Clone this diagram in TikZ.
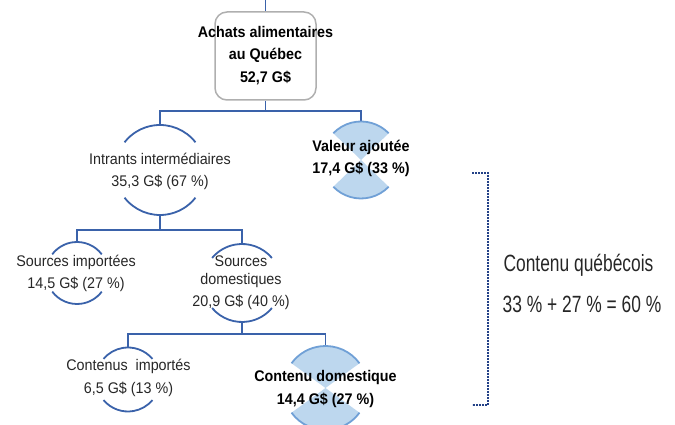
\documentclass[tikz,border=0pt]{standalone}
\usepackage{fontspec}
\setmainfont{Liberation Sans}[FakeStretch=0.93]
\newfontfamily\narrowfont{Liberation Sans}[FakeStretch=0.74]
\definecolor{lineblue}{RGB}{58,98,170}
\definecolor{bowfill}{RGB}{189,215,238}
\definecolor{bowline}{RGB}{112,160,214}
\definecolor{boxgray}{RGB}{175,175,175}
\definecolor{txt}{RGB}{38,38,38}
\definecolor{dotblue}{RGB}{35,65,135}
\begin{document}
\begin{tikzpicture}[x=1pt,y=1pt,
  conn/.style={draw=lineblue, line width=1.5pt},
  ring/.style={draw=lineblue, line width=1.8pt},
  hole/.style={circle, draw=none, inner sep=0pt, outer sep=0pt, minimum size=#1},
  lbl/.style={align=center, text=txt, inner sep=0pt, font=\fontsize{15.4}{22.5}\selectfont},
  blbl/.style={align=center, text=black, inner sep=0pt, font=\fontsize{15.4}{22.5}\selectfont\bfseries},
  bowarc/.style={draw=bowline, line width=1.8pt},
  boxshape/.style={draw=boxgray, line width=1.5pt, rounded corners=12pt, minimum width=101pt, minimum height=88pt, inner sep=0pt},
  bigtxt/.style={text=txt, inner sep=0pt, font=\narrowfont\fontsize{23.5}{28}\selectfont},
  bracket/.style={draw=dotblue, line width=2pt, dash pattern=on 1.6pt off 1.4pt}]
\useasboundingbox (0,0) rectangle (675,425);

% shapes (invisible circles carrying the anchors)
\node[boxshape] (ach) at (265.5,369) {};
\node[hole=90pt] (ii) at (160,255) {};
\node[hole=77pt] (va) at (361,265) {};
\node[hole=62pt] (si) at (77,152) {};
\node[hole=78pt] (sd) at (242,142) {};
\node[hole=64pt] (ci) at (128,45.5) {};
\node[hole=84pt] (cd) at (325.5,37) {};

% junctions
\coordinate (top) at (265.5,425);
\coordinate (j1) at (265.5,314);
\coordinate (j2) at (160,195);
\coordinate (j3) at (242,91);

% connectors
\draw[conn] (top) -- (ach.north);
\draw[conn] (ach.south) -- (j1);
\draw[conn] (ii.north) |- (j1) -| (va.north);
\draw[conn] (ii.south) -- (j2);
\draw[conn] (si.north) |- (j2) -| (sd.north);
\draw[conn] (sd.south) -- (j3);
\draw[conn] (ci.north) |- (j3) -| (cd.north);

% filled bow-tie shapes
\fill[bowfill] (va.center) -- (va.44) arc[start angle=44, end angle=136, radius=38.5] -- cycle;
\fill[bowfill] (va.center) -- (va.224) arc[start angle=224, end angle=316, radius=38.5] -- cycle;
\draw[bowarc] (va.44) arc[start angle=44, end angle=136, radius=38.5];
\draw[bowarc] (va.224) arc[start angle=224, end angle=316, radius=38.5];
\fill[bowfill] (cd.center) -- (cd.36) arc[start angle=36, end angle=144, radius=42] -- cycle;
\fill[bowfill] (cd.center) -- (cd.216) arc[start angle=216, end angle=324, radius=42] -- cycle;
\draw[bowarc] (cd.36) arc[start angle=36, end angle=144, radius=42];
\draw[bowarc] (cd.216) arc[start angle=216, end angle=324, radius=42];

% outline rings (top and bottom arcs)
\draw[ring] (ii.38) arc[start angle=38, end angle=142, radius=45];
\draw[ring] (ii.218) arc[start angle=218, end angle=322, radius=45];
\draw[ring] (si.37) arc[start angle=37, end angle=143, radius=31];
\draw[ring] (si.217) arc[start angle=217, end angle=323, radius=31];
\draw[ring] (sd.40) arc[start angle=40, end angle=140, radius=39];
\draw[ring] (sd.220) arc[start angle=220, end angle=320, radius=39];
\draw[ring] (ci.40) arc[start angle=40, end angle=140, radius=32];
\draw[ring] (ci.220) arc[start angle=220, end angle=320, radius=32];

% texts
\node[blbl] (acht) at (265.5,369.5) {Achats alimentaires\\au Québec\\52,7 G\$};
\node[lbl] (iit) at (160,253.5) {Intrants intermédiaires\\35,3 G\$ (67 \%)};
\node[blbl] (vat) at (361,266.5) {Valeur ajoutée\\17,4 G\$ (33 \%)};
\node[lbl] (sit) at (76,151.5) {Sources importées\\14,5 G\$ (27 \%)};
\node[lbl] (sdt) at (241,142) {Sources\\[-5pt]domestiques\\20,9 G\$ (40 \%)};
\node[lbl] (cit) at (128.5,47) {Contenus\ \ importés\\6,5 G\$ (13 \%)};
\node[blbl] (cdt) at (325.5,36) {Contenu domestique\\14,4 G\$ (27 \%)};

% bracket and summary
\coordinate (bt1) at (472,252);
\coordinate (bt2) at (488,252);
\coordinate (bb2) at (488,20);
\coordinate (bb1) at (472,20);
\draw[bracket] (bt1) -- (bt2) -- (bb2) -- (bb1);
\node[bigtxt] (cq) at (578.5,160) {Contenu québécois};
\node[bigtxt] (eq) at (582,121) {33 \% + 27 \% = 60 \%};
\end{tikzpicture}
\end{document}
